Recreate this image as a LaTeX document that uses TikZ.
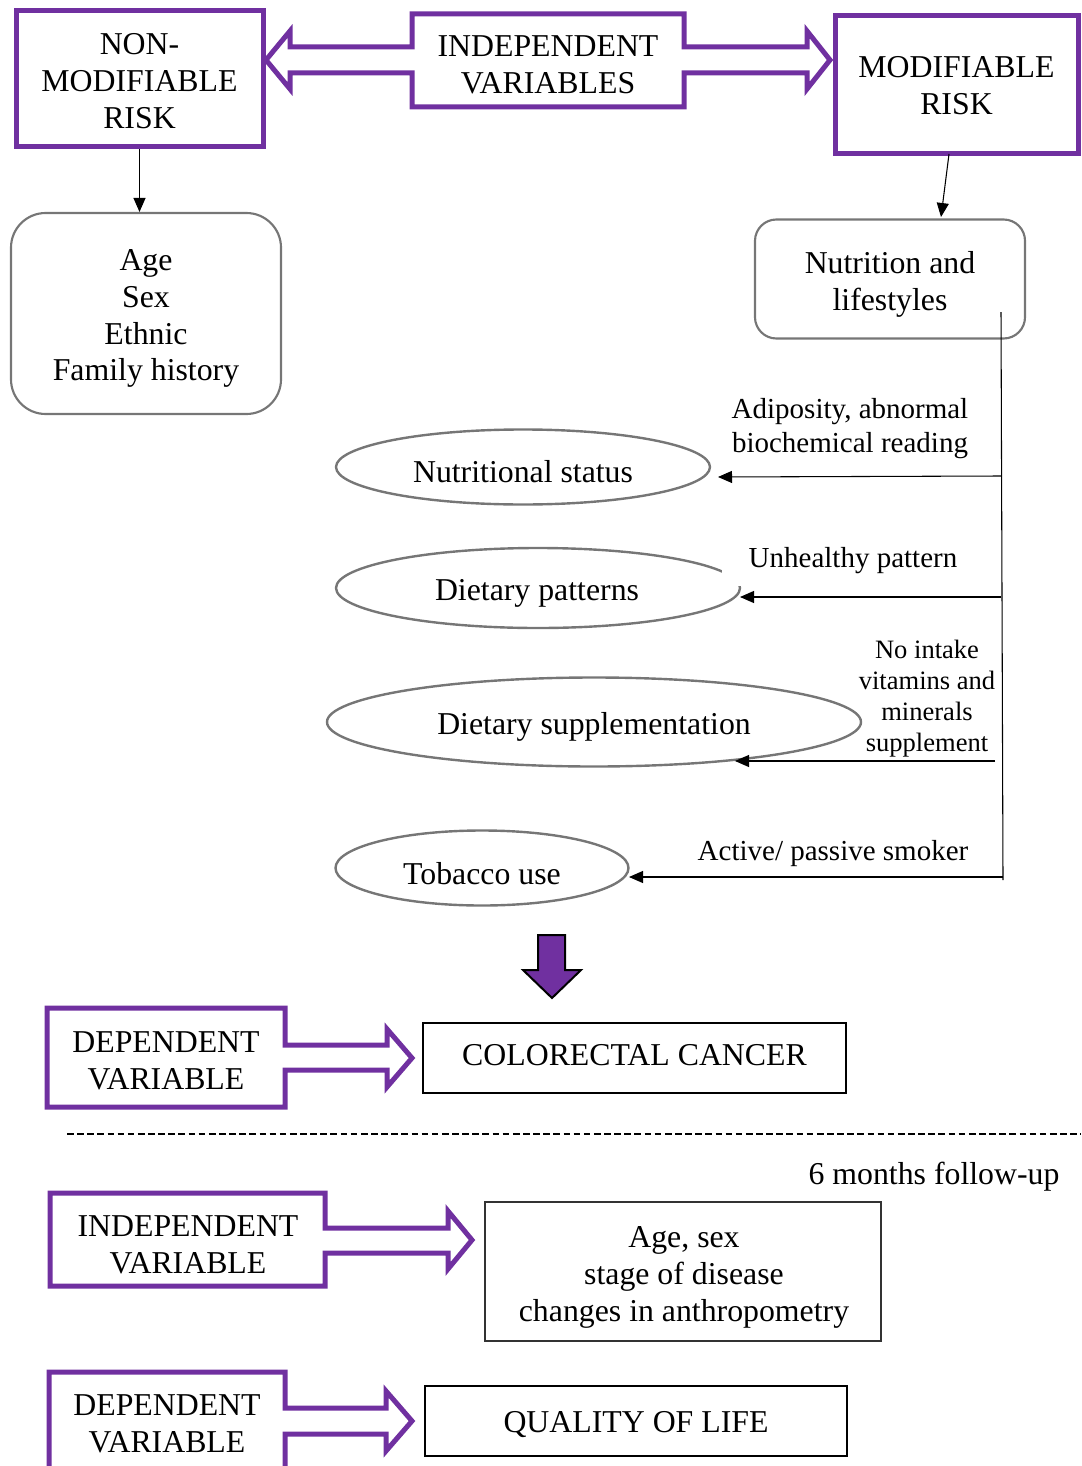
\documentclass[tikz,border=0pt]{standalone}
\usepackage{fontspec}
\setmainfont{Liberation Serif}
\usetikzlibrary{arrows.meta,shapes.geometric}
\definecolor{vpurple}{RGB}{112,48,160}
\definecolor{egray}{RGB}{118,118,118}
\begin{document}
\begin{tikzpicture}[x=0.75pt,y=-0.75pt,
  big/.style={font=\fontsize{23.85}{27.7}\selectfont, align=center, inner sep=0pt},
  lab/.style={font=\fontsize{21.75}{25}\selectfont, align=center},
  smalllab/.style={font=\fontsize{19.9}{23.25}\selectfont, align=center, inner sep=0pt},
  pbox/.style={draw=vpurple, line width=3.75pt, rectangle, inner sep=0pt},
  callout/.style={draw=vpurple, line width=3.75pt, line join=miter},
  rbox/.style={draw=egray, line width=1.6pt, rectangle, rounded corners=#1, inner sep=0pt},
  ell/.style={ellipse, draw=egray, line width=1.8pt, inner sep=0pt},
  bbox/.style={draw=black, line width=2.2pt, rectangle, inner sep=0pt},
  conn/.style={-{Triangle[length=10.5pt,width=9pt]}, line width=0.8pt, draw=black},
  plain/.style={line width=0.8pt, draw=black},
  fatarrow/.style={fill=vpurple, draw=black, line width=1.5pt, line join=miter}
]
\useasboundingbox (0,0) rectangle (1081,1466);

% ---------- top row ----------
\node[pbox, minimum width=185.25pt, minimum height=102pt] (nm) at (139.5,79) {};
\node[big] at (139.5,81) {NON-\\MODIFIABLE\\RISK};
\node[pbox, minimum width=182.25pt, minimum height=103.5pt] (mr) at (956.5,85) {};
\node[big] at (956.5,85.5) {MODIFIABLE\\RISK};
\draw[callout] (412,14) -- (684,14) -- (684,47) -- (807,47) -- (807,31) -- (830,60)
  -- (807,89) -- (807,73) -- (684,73) -- (684,107) -- (412,107) -- (412,73)
  -- (290,73) -- (290,89) -- (266,60) -- (290,31) -- (290,47) -- (412,47) -- cycle;
\node[big] (iv) at (548,64.5) {INDEPENDENT\\VARIABLES};

% ---------- second row ----------
\node[rbox=26pt, minimum width=202.5pt, minimum height=150.75pt] (age) at (146,313.5) {};
\node[big] at (146,318.5) {Age\\Sex\\Ethnic\\Family history};
\node[rbox=16pt, minimum width=202.5pt, minimum height=89.25pt] (nut) at (890,279) {};
\node[big] at (890,284) {Nutrition and\\lifestyles};

\draw[conn] (nm.south) -- (nm.south |- age.north);
\coordinate (mrb) at (949,154);
\coordinate (nutt) at (941,217);
\draw[conn] (mrb) -- (nutt);

% ---------- ellipses ----------
\node[ell, minimum width=280.5pt, minimum height=56.25pt] (ns) at (523,467) {};
\node[big] at (523,472) {Nutritional status};
\node[ell, minimum width=303pt, minimum height=60pt] (dp) at (538,588) {};
\node[big] at (537,593) {Dietary patterns};
\node[ell, minimum width=400.5pt, minimum height=66.75pt] (dsup) at (594,722) {};
\node[big] at (594,727) {Dietary supplementation};
\node[ell, minimum width=219.75pt, minimum height=56.25pt] (tob) at (482,868) {};
\node[big] at (482,874) {Tobacco use};

% ---------- labels ----------
\node[lab, inner sep=0pt] (l1) at (850,428.5) {Adiposity, abnormal\\biochemical reading};
\node[lab, fill=white, inner xsep=20pt, inner ysep=9pt] (l2) at (853,561) {Unhealthy pattern};
\node[smalllab] (l3) at (927,699) {No intake\\vitamins and\\minerals\\supplement};
\node[lab, inner sep=0pt] (l4) at (833,854) {Active/ passive smoker};

% ---------- connectors ----------
\coordinate (v0) at (1001,312);
\coordinate (v1) at (1003,880);
\draw[plain] (v0) -- (v1);
\coordinate (b1) at (1001,476);
\coordinate (b2) at (1001,597);
\coordinate (b3) at (995,761);
\coordinate (b4) at (1003,877);
\coordinate (t1) at (718,477);
\coordinate (t2) at (740,597);
\coordinate (t3) at (735,761);
\coordinate (t4) at (629,877);
\draw[conn] (b1) -- (t1);
\draw[conn] (b2) -- (t2);
\draw[conn] (b3) -- (t3);
\draw[conn] (b4) -- (t4);

% ---------- fat down arrow ----------
\draw[fatarrow] (538,935) -- (565,935) -- (565,970) -- (581,970) -- (552,998)
  -- (523,970) -- (538,970) -- cycle;

% ---------- dependent variable 1 ----------
\draw[callout] (47,1008) -- (285,1008) -- (285,1045) -- (387,1045) -- (387,1029)
  -- (412,1058) -- (387,1087) -- (387,1070) -- (285,1070) -- (285,1107)
  -- (47,1107) -- cycle;
\node[big] (dv1) at (166,1060.5) {DEPENDENT\\VARIABLE};
\node[bbox, minimum width=317.25pt, minimum height=52.5pt] (cc) at (634.5,1058) {};
\node[big] at (634.5,1055) {COLORECTAL CANCER};

% ---------- dashed line ----------
\coordinate (d0) at (67,1134);
\coordinate (d1) at (1081,1134);
\draw[line width=1.1pt, dash pattern=on 5pt off 2.6pt] (d0) -- (d1);

\node[big] (fu) at (934,1177) {6 months follow-up};

% ---------- independent variable 2 ----------
\draw[callout] (50,1193) -- (325,1193) -- (325,1228) -- (448,1228) -- (448,1211)
  -- (472,1240) -- (448,1269) -- (448,1253) -- (325,1253) -- (325,1286)
  -- (50,1286) -- cycle;
\node[big] (iv2) at (188,1245) {INDEPENDENT\\VARIABLE};
\node[draw=black!80, line width=1pt, rectangle, minimum width=297pt, minimum height=104.25pt] (as) at (683,1271.5) {};
\node[big] at (684,1277.5) {Age, sex\\stage of disease\\changes in anthropometry};

% ---------- dependent variable 2 ----------
\draw[callout] (49,1500) -- (49,1372) -- (285,1372) -- (285,1408) -- (386,1408) -- (386,1391)
  -- (412,1421) -- (386,1451) -- (386,1434) -- (285,1434) -- (285,1500);
\node[big] (dv2) at (167,1424) {DEPENDENT\\VARIABLE};
\node[bbox, minimum width=316.5pt, minimum height=52.5pt] (ql) at (636,1421) {};
\node[big] at (636,1425) {QUALITY OF LIFE};
\end{tikzpicture}
\end{document}
